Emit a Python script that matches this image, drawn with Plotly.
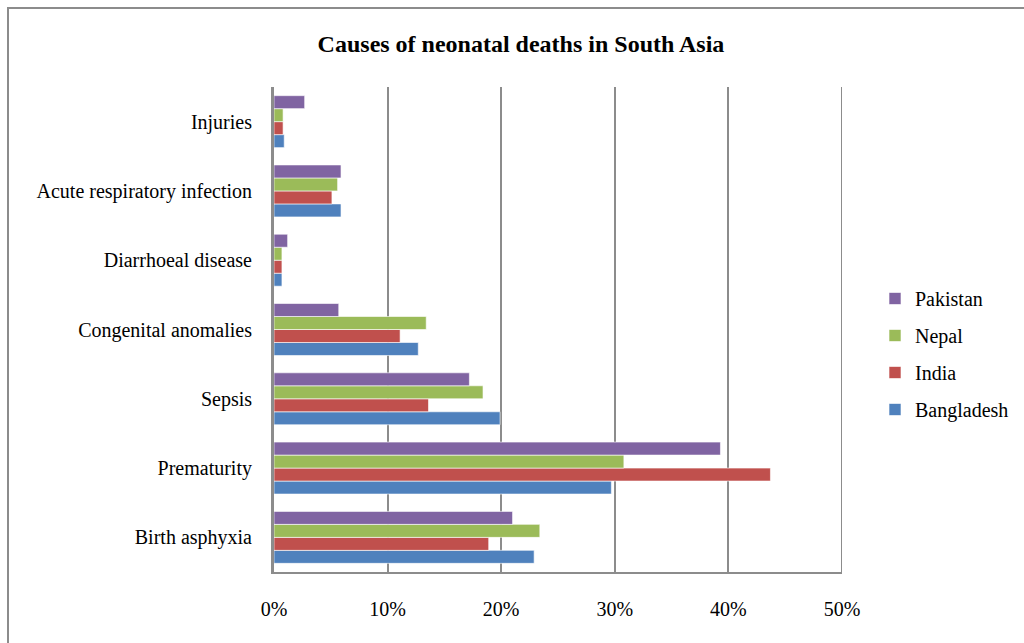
import plotly.graph_objects as go

# Causes (bottom to top on the chart)
causes = ["Birth asphyxia", "Prematurity", "Sepsis", "Congenital anomalies",
          "Diarrhoeal disease", "Acute respiratory infection", "Injuries"]

# Share of neonatal deaths, in percent
bangladesh = [22.9, 29.7, 19.9, 12.7, 0.7, 5.9, 0.9]
india      = [18.9, 43.7, 13.6, 11.1, 0.7, 5.1, 0.8]
nepal      = [23.4, 30.8, 18.4, 13.4, 0.7, 5.6, 0.8]
pakistan   = [21.0, 39.3, 17.2, 5.7, 1.2, 5.9, 2.7]

x_ticks = [0, 10, 20, 30, 40, 50]
x_tick_labels = [f"{v}%" for v in x_ticks]

# name, values, colour, position in the legend (top first)
series = [
    ("Bangladesh", bangladesh, "#4F81BD", 4),
    ("India", india, "#C0504D", 3),
    ("Nepal", nepal, "#9BBB59", 2),
    ("Pakistan", pakistan, "#8064A2", 1),
]

FONT = "Liberation Serif, Times New Roman, serif"
GRID = "#8C8C8C"

fig = go.Figure()
for name, vals, color, rank in series:
    fig.add_trace(go.Bar(
        y=causes, x=vals, name=name, orientation="h",
        legendgroup=name, legendrank=rank,
        marker=dict(color=color, line=dict(color="rgba(255,255,255,0.6)", width=1)),
    ))

W, H = 1024, 643
L, R, T, B = 274, 182, 87, 71
pw, ph = W - L - R, H - T - B

def px_x(p):
    return (p - L) / pw

def px_y(p):
    return (H - B - p) / ph

fig.update_layout(
    width=W, height=H,
    margin=dict(l=L, r=R, t=T, b=B, autoexpand=False),
    paper_bgcolor="white", plot_bgcolor="white",
    barmode="group", bargap=0.25, bargroupgap=0,
    font=dict(family=FONT, color="black"),
    title=dict(text="<b>Causes of neonatal deaths in South Asia</b>",
               font=dict(family=FONT, size=24, color="black"),
               x=521 / W, xanchor="center", xref="container",
               y=1 - 44 / H, yanchor="middle"),
    xaxis=dict(range=[0, 50], tickvals=x_ticks, ticktext=x_tick_labels,
               showgrid=True, gridcolor=GRID, gridwidth=2,
               showline=True, linecolor=GRID, linewidth=2,
               ticks="", ticklabelstandoff=18,
               tickfont=dict(family=FONT, size=20, color="black"),
               zeroline=False, fixedrange=True),
    yaxis=dict(categoryorder="array", categoryarray=causes,
               showgrid=False, showline=True, linecolor=GRID, linewidth=3,
               ticks="", ticklabelstandoff=15,
               tickfont=dict(family=FONT, size=20, color="black"),
               fixedrange=True),
    legend=dict(xref="container", yref="container",
                x=875 / W, xanchor="left", y=1 - 354 / H, yanchor="middle",
                traceorder="grouped", tracegroupgap=8,
                font=dict(family=FONT, size=20, color="black"),
                bgcolor="rgba(0,0,0,0)", itemwidth=30),
    shapes=[
        # outer chart border
        dict(type="rect", xref="paper", yref="paper",
             x0=px_x(8), x1=px_x(1040), y0=px_y(660), y1=px_y(8),
             line=dict(color=GRID, width=2), layer="below"),
        # gridline at the last tick, on the plot edge
        dict(type="line", xref="x", yref="paper",
             x0=x_ticks[-1], x1=x_ticks[-1], y0=0, y1=1,
             line=dict(color=GRID, width=2), layer="below"),
    ],
)

fig.write_html("out.html")
